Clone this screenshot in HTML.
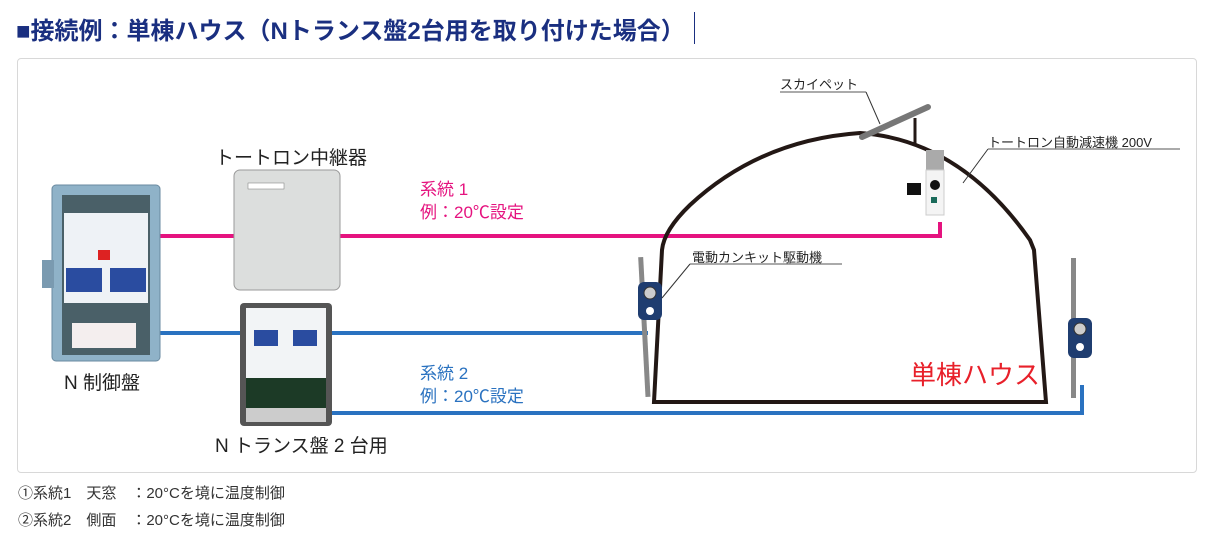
<!DOCTYPE html>
<html><head><meta charset="utf-8"><style>
body{margin:0;width:1215px;height:554px;background:#fff;font-family:"Liberation Sans","Noto Sans CJK JP",sans-serif;position:relative;overflow:hidden}
.t{position:absolute;white-space:nowrap}
</style></head><body>
<div class="t" style="left:16px;top:11px;font-size:24px;font-weight:bold;color:#1a2f80">■接続例：単棟ハウス（Nトランス盤2台用を取り付けた場合）</div>
<div style="position:absolute;left:694px;top:12px;width:1px;height:32px;background:#1a2f80"></div>
<div style="position:absolute;left:17px;top:58px;width:1178px;height:413px;border:1px solid #d8d8d8;border-radius:4px"></div>
<svg width="1215" height="554" style="position:absolute;left:0;top:0">
<polyline points="160,236 940,236 940,222" fill="none" stroke="#e5137f" stroke-width="4"/>
<polyline points="160,333 648,333" fill="none" stroke="#2a72c0" stroke-width="4"/>
<polyline points="330,413 1082,413 1082,385" fill="none" stroke="#2a72c0" stroke-width="4"/>
<path d="M654,402 L662,250 Q664,230 690,205 Q760,140 860,133 Q960,140 1030,240 L1034,250 L1046,402 Z" fill="none" stroke="#231815" stroke-width="4"/>
<line x1="862" y1="137" x2="928" y2="107" stroke="#777" stroke-width="6" stroke-linecap="round"/>
<line x1="915" y1="118" x2="915" y2="146" stroke="#231815" stroke-width="3"/>
<line x1="780" y1="92" x2="866" y2="92" stroke="#555" stroke-width="1"/>
<line x1="866" y1="92" x2="880" y2="124" stroke="#333" stroke-width="1"/>
<rect x="926" y="150" width="18" height="20" fill="#aaa"/>
<rect x="926" y="170" width="18" height="45" fill="#f4f4f4" stroke="#ccc"/>
<circle cx="935" cy="185" r="5" fill="#111"/>
<rect x="907" y="183" width="14" height="12" fill="#111"/>
<rect x="931" y="197" width="6" height="6" fill="#1a6a5a"/>
<line x1="988" y1="149" x2="1180" y2="149" stroke="#555" stroke-width="1"/>
<line x1="988" y1="149" x2="963" y2="183" stroke="#333" stroke-width="1"/>
<rect x="642" y="257" width="5" height="140" fill="#888" transform="rotate(-3 644 330)"/>
<rect x="638" y="282" width="24" height="38" rx="6" fill="#1f3d70"/>
<circle cx="650" cy="293" r="6" fill="#ccc" stroke="#333"/>
<circle cx="650" cy="311" r="4" fill="#fff"/>
<line x1="690" y1="264" x2="842" y2="264" stroke="#555" stroke-width="1"/>
<line x1="690" y1="264" x2="662" y2="298" stroke="#333" stroke-width="1"/>
<rect x="1071" y="258" width="5" height="140" fill="#888"/>
<rect x="1068" y="318" width="24" height="40" rx="6" fill="#1f3d70"/>
<circle cx="1080" cy="329" r="6" fill="#ccc" stroke="#333"/>
<circle cx="1080" cy="347" r="4" fill="#fff"/>
<rect x="52" y="185" width="108" height="176" rx="4" fill="#8fb2c8" stroke="#6a8aa0"/>
<rect x="62" y="195" width="88" height="160" fill="#4a6068"/>
<rect x="64" y="213" width="84" height="90" fill="#eef2f6"/>
<rect x="66" y="268" width="36" height="24" fill="#2a4ca0"/>
<rect x="110" y="268" width="36" height="24" fill="#2a4ca0"/>
<rect x="98" y="250" width="12" height="10" fill="#d22"/>
<rect x="72" y="323" width="64" height="25" fill="#f4eeee"/>
<rect x="42" y="260" width="12" height="28" fill="#7a9ab0"/>
<rect x="234" y="170" width="106" height="120" rx="6" fill="#dcdedd" stroke="#9a9a9a"/>
<rect x="248" y="183" width="36" height="6" fill="#fff" stroke="#777" stroke-width="0.5"/>
<rect x="240" y="303" width="92" height="123" rx="4" fill="#555"/>
<rect x="246" y="308" width="80" height="70" fill="#f2f4f6"/>
<rect x="254" y="330" width="24" height="16" fill="#2a4ca0"/>
<rect x="293" y="330" width="24" height="16" fill="#2a4ca0"/>
<rect x="246" y="378" width="80" height="30" fill="#1c3a26"/>
<rect x="246" y="408" width="80" height="14" fill="#ccc"/>
</svg>
<div class="t" style="left:215px;top:143px;font-size:19px;color:#222">トートロン中継器</div>
<div class="t" style="left:64px;top:368px;font-size:19px;color:#222">N 制御盤</div>
<div class="t" style="left:215px;top:431px;font-size:19px;color:#222">N トランス盤 2 台用</div>
<div class="t" style="left:420px;top:178px;font-size:17px;color:#e5137f;line-height:23px">系統 1<br>例：20℃設定</div>
<div class="t" style="left:420px;top:362px;font-size:17px;color:#2a72c0;line-height:23px">系統 2<br>例：20℃設定</div>
<div class="t" style="left:780px;top:74px;font-size:13px;color:#222">スカイペット</div>
<div class="t" style="left:988px;top:132px;font-size:13px;color:#222">トートロン自動減速機 200V</div>
<div class="t" style="left:692px;top:247px;font-size:13px;color:#222">電動カンキット駆動機</div>
<div class="t" style="left:910px;top:355px;font-size:26px;color:#e8202a">単棟ハウス</div>
<div class="t" style="left:18px;top:482px;font-size:15px;color:#333">①系統1　天窓　：20°Cを境に温度制御</div>
<div class="t" style="left:18px;top:509px;font-size:15px;color:#333">②系統2　側面　：20°Cを境に温度制御</div>
</body></html>
